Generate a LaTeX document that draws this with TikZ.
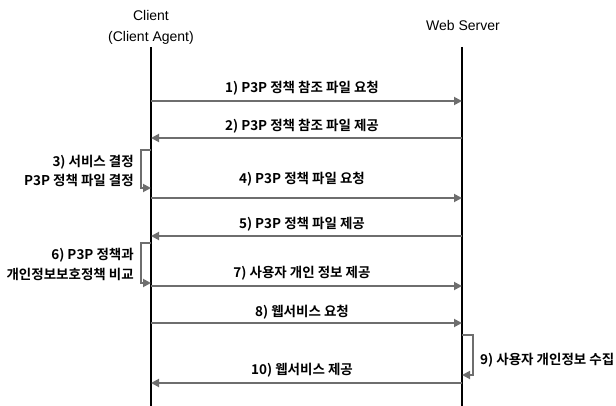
\documentclass[tikz,border=0pt]{standalone}
\usepackage{fontspec}
\setmainfont{Liberation Sans}
\newfontfamily\kr{Noto Sans CJK KR}[BoldFont={Noto Sans CJK KR Bold}]
\usetikzlibrary{arrows.meta}
\definecolor{msg}{HTML}{6E6E6E}
\tikzset{
  head/.style={font=\fontsize{14}{16}\selectfont, inner sep=0pt, align=center},
  life/.style={line width=1.8pt, black},
  msgline/.style={line width=1.8pt, msg, -{Triangle[length=8pt,width=8pt]}},
  lbl/.style={font=\kr\bfseries\fontsize{13.5}{15}\selectfont, inner sep=0pt},
}
\begin{document}
\begin{tikzpicture}[x=1pt,y=-1pt]
\useasboundingbox (0,0) rectangle (616,406);
% headers
\node[head] (client) at (151,27) {Client\\[5pt](Client Agent)};
\node[head] (server) at (463,25) {Web Server};
% lifelines
\coordinate (ct) at (151,47); \coordinate (cb) at (151,406);
\coordinate (st) at (462,47); \coordinate (sb) at (462,406);
\draw[life] (ct) -- (cb);
\draw[life] (st) -- (sb);
% message coordinates
\foreach \i/\y in {1/101,2/138,4/198,5/236,7/286,8/323,10/383}{
  \coordinate (c\i) at (151,\y);
  \coordinate (s\i) at (462,\y);
}
% 1
\draw[msgline] (c1) -- (s1);
\node[lbl] (l1) at (302,88) {1) P3P 정책 참조 파일 요청};
% 2
\draw[msgline] (s2) -- (c2);
\node[lbl] (l2) at (302,126) {2) P3P 정책 참조 파일 제공};
% 3 self loop
\coordinate (a3) at (151,150); \coordinate (b3) at (151,188);
\draw[msgline] (a3) -- ++(-10,0) |- (b3);
\node[lbl, anchor=east] (l3a) at (134,162) {3) 서비스 결정};
\node[lbl, anchor=east] (l3b) at (134,180) {P3P 정책 파일 결정};
% 4
\draw[msgline] (c4) -- (s4);
\node[lbl] (l4) at (302,179) {4) P3P 정책 파일 요청};
% 5
\draw[msgline] (s5) -- (c5);
\node[lbl] (l5) at (302,224) {5) P3P 정책 파일 제공};
% 6 self loop
\coordinate (a6) at (151,243); \coordinate (b6) at (151,283);
\draw[msgline] (a6) -- ++(-10,0) |- (b6);
\node[lbl, anchor=east] (l6a) at (134,255) {6) P3P 정책과};
\node[lbl, anchor=east] (l6b) at (134,274) {개인정보보호정책 비교};
% 7
\draw[msgline] (c7) -- (s7);
\node[lbl] (l7) at (302,273) {7) 사용자 개인 정보 제공};
% 8
\draw[msgline] (c8) -- (s8);
\node[lbl] (l8) at (302,312) {8) 웹서비스 요청};
% 9 self loop
\coordinate (a9) at (462,335); \coordinate (b9) at (462,375);
\draw[msgline] (a9) -- ++(11,0) |- (b9);
\node[lbl, anchor=west] (l9) at (480,360) {9) 사용자 개인정보 수집};
% 10
\draw[msgline] (s10) -- (c10);
\node[lbl] (l10) at (302,370) {10) 웹서비스 제공};
\end{tikzpicture}
\end{document}
